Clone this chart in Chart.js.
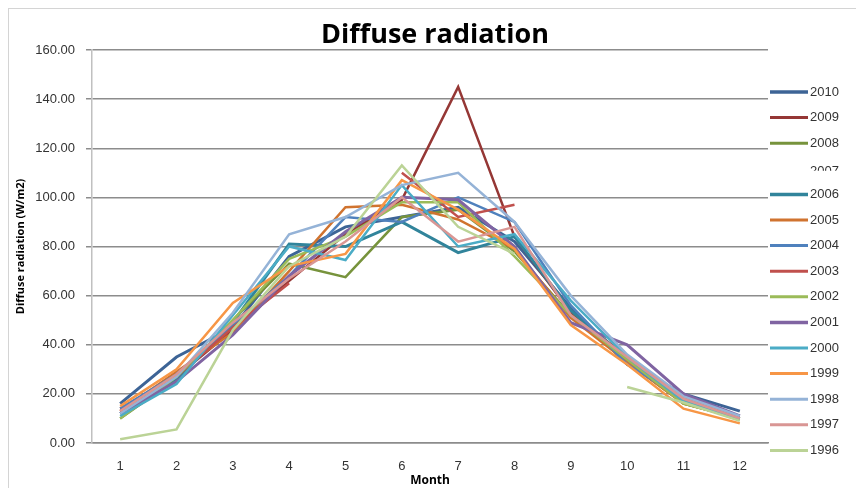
<!DOCTYPE html>
<html>
<head>
<meta charset="utf-8">
<script src="https://cdn.jsdelivr.net/npm/chart.js@4.4.1/dist/chart.umd.min.js"></script>
<style>
  html, body { margin: 0; padding: 0; background: #fff; }
  #wrap { position: relative; width: 856px; height: 488px; overflow: hidden; }
  #frame { position: absolute; left: 8px; top: 8px; width: 900px; height: 600px; border: 1px solid #d4d4d4; }
  #box { position: absolute; left: 0; top: 0; width: 856px; height: 488px; }
</style>
</head>
<body>
<div id="wrap">
  <div id="frame"></div>
  <div id="box"><canvas id="chart"></canvas></div>
</div>
<script>
const months = ["1", "2", "3", "4", "5", "6", "7", "8", "9", "10", "11", "12"];
const yTicks = [0, 20, 40, 60, 80, 100, 120, 140, 160];

// diffuse radiation (W/m2) per year
const y2010 = [16, 35, 47, 76, 88, 92, 96, 82, 55, 32, 20, 13];
const y2009 = [14, 27, 46, 66, 85, 99, 145, 84, 53, 35, 18, 11];
const y2008 = [10, 26, 50, 73, 67.5, 92, 95, 78, 52, 33, 16, 10];
const y2007 = [null, null, null, null, null, null, null, null, null, null, null, null];
const y2006 = [12, 26, 49, 81, 80, 90, 77.5, 84, 54, 34, 17, 10];
const y2005 = [13, 29, 45, 70, 96, 97, 91, 79, 51, 33, 16, 10];
const y2004 = [14, 28, 48, 68, 92, 90, 100, 90, 56, 32, 18, 11];
const y2003 = [13, 27, 47, 65, null, 110, 92, 97, null, 34, 17, 10];
const y2002 = [10, 27, 50, 75, 84, 98, 98, 76, 52, 34, 16, 10];
const y2001 = [12, 25, 44, 68, 86, 100, 99, 80, 49, 40, 20, 11];
const y2000 = [11, 24, 52, 80, 74.5, 105, 80, 85, 58, 35, 17, 10];
const y1999 = [15, 30, 57, 72, 77, 107, 95, 79, 48, 32, 14, 8];
const y1998 = [12, 27, 53, 85, 92, 105, 110, 90, 60, 36, 19, 11];
const y1997 = [13, 28, 49, 67, 82, 100, 82, 88, 52, 35, 18, 10];
const y1996 = [1.5, 5.5, 46, 72, 84, 113, 88, 77, null, 22.8, 16.5, 9];

const years = ["2010", "2009", "2008", "2007", "2006", "2005", "2004", "2003",
               "2002", "2001", "2000", "1999", "1998", "1997", "1996"];
const values = [y2010, y2009, y2008, y2007, y2006, y2005, y2004, y2003,
                y2002, y2001, y2000, y1999, y1998, y1997, y1996];
const colors = ["#3D6496", "#953735", "#77933C", "rgba(0,0,0,0)", "#31849B", "#D0732F",
                "#4F81BD", "#C0504D", "#9BBB59", "#8064A2", "#4BACC6", "#F79646",
                "#95B3D7", "#D99694", "#BBD396"];
const widths = [3, 2.5, 2.5, 0, 3, 2.5, 2.5, 2.5, 2.5, 3, 2.5, 2.5, 2.5, 2.5, 2.5];

const datasets = years.map((yr, i) => ({
  label: yr,
  data: values[i],
  borderColor: colors[i],
  backgroundColor: colors[i],
  borderWidth: widths[i],
  pointRadius: 0,
  tension: 0,
  fill: false,
  order: years.length - i, // excel draws later series on top
}));

// title and right-hand legend, drawn by hand so they sit where excel put them
const sideLegend = {
  id: "sideLegend",
  afterDraw(chart) {
    const ctx = chart.ctx;
    ctx.save();
    ctx.font = "bold 27px 'Open Sans', sans-serif";
    ctx.fillStyle = "#000";
    ctx.textAlign = "center";
    ctx.textBaseline = "middle";
    ctx.fillText("Diffuse radiation", 435, 35);

    ctx.textAlign = "left";
    ctx.font = "13px 'Liberation Sans', Arial, sans-serif";
    ctx.fillStyle = "#333";
    chart.data.datasets.forEach((ds, i) => {
      const y = 92 + i * 25.6;
      if (ds.borderWidth > 0) {
        ctx.strokeStyle = ds.borderColor;
        ctx.lineWidth = ds.borderWidth + 0.5;
        ctx.beginPath();
        ctx.moveTo(770, y);
        ctx.lineTo(808, y);
        ctx.stroke();
        ctx.fillText(ds.label, 810, y);
      } else {
        // this row is cut off in the original
        ctx.save();
        ctx.beginPath();
        ctx.rect(800, y - 4, 60, 6);
        ctx.clip();
        ctx.fillText(ds.label, 810, y + 3);
        ctx.restore();
      }
    });
    ctx.restore();
  }
};

new Chart(document.getElementById("chart"), {
  type: "line",
  data: { labels: months, datasets: datasets },
  options: {
    responsive: true,
    maintainAspectRatio: false,
    animation: false,
    layout: { padding: { left: 0, right: 88, top: 50, bottom: 0 } },
    plugins: {
      legend: { display: false },
      tooltip: { enabled: false },
      title: { display: false },
    },
    scales: {
      x: {
        offset: true,
        grid: { display: false },
        border: { display: true, color: "#8c8c8c", width: 1.5 },
        ticks: {
          color: "#333",
          padding: 8,
          maxRotation: 0,
          font: { family: "'Liberation Sans', Arial, sans-serif", size: 13 },
        },
        title: {
          display: true,
          text: "Month",
          color: "#000",
          font: { family: "'Open Sans', sans-serif", size: 12, weight: "bold" },
          padding: { top: 0, bottom: 0 },
        },
        afterFit(scale) { scale.height = 45; },
      },
      y: {
        min: 0,
        max: 160,
        afterBuildTicks(scale) { scale.ticks = yTicks.map(v => ({ value: v })); },
        grid: { color: "#8c8c8c", lineWidth: 1.5, tickLength: 6 },
        border: { display: true, color: "#c0c0c0", width: 1.5 },
        ticks: {
          color: "#333",
          padding: 11,
          font: { family: "'Liberation Sans', Arial, sans-serif", size: 13 },
          callback: v => Number(v).toFixed(2),
        },
        title: {
          display: true,
          text: "Diffuse radiation (W/m2)",
          color: "#000",
          font: { family: "'Open Sans', sans-serif", size: 11, weight: "bold" },
          padding: { top: 14, bottom: 0 },
        },
        afterFit(scale) { scale.width = 92; },
      },
    },
  },
  plugins: [sideLegend],
});
</script>
</body>
</html>
